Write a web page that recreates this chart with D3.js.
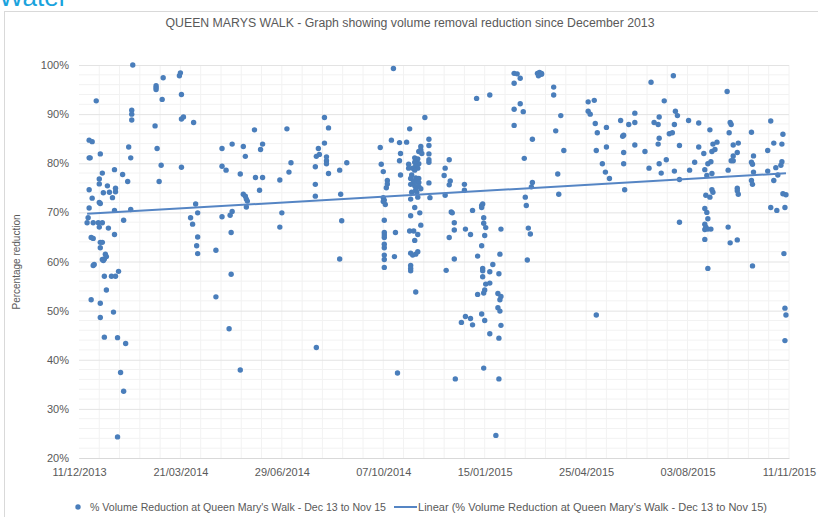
<!DOCTYPE html>
<html>
<head>
<meta charset="utf-8">
<script src="https://cdn.jsdelivr.net/npm/d3@7"></script>
<style>
  body { margin: 0; background: #fff; }
  svg { display: block; font-family: "Liberation Sans", Arial, sans-serif; }
</style>
</head>
<body>
<div id="graph"></div>
<script>
// 開始日（横軸の原点）
const startDate = new Date(2013, 11, 11);

// 横軸の目盛りラベル
const xTickLabels = ['11/12/2013', '21/03/2014', '29/06/2014', '07/10/2014',
  '15/01/2015', '25/04/2015', '03/08/2015', '11/11/2015'];

// 縦軸の目盛り（％）
const yTicks = [20, 30, 40, 50, 60, 70, 80, 90, 100];

// 測定値: [開始日からの日数, 削減率(%)]
const readings = [
  [53,100],[17,92.7],[10,84.7],[13,84.4],[21,81.9],[10,81.1],[11,81.1],[52,90.8],[52,90.0],[52,88.8],
  [49,83.3],[51,81.1],[23,78.0],[35,78.7],[43,77.7],[48,76.3],[20,76.8],[20,75.8],[10,74.6],[28,75.4],
  [24,74.0],[30,74.1],[36,74.9],[36,74.2],[13,72.9],[33,73.0],[20,72.0],[21,71.8],[10,70.9],[35,70.4],
  [51,70.6],[9,68.9],[8,67.9],[14,67.9],[19,67.9],[20,67.0],[23,67.9],[44,68.4],[29,66.8],[35,65.5],
  [12,64.9],[14,64.7],[21,63.9],[23,63.9],[21,62.8],[26,61.5],[27,61.0],[25,60.5],[23,60.4],[24,60.2],
  [14,59.2],[15,59.4],[39,58.0],[25,57.0],[32,57.0],[36,57.0],[27,54.2],[12,52.2],[21,51.5],[34,49.7],
  [21,48.6],[25,44.6],[38,44.5],[46,43.3],[41,37.4],[44,33.6],[38,24.3],
  [76,95.8],[76,95.4],[76,95.0],[83,97.4],[82,93.0],[99,97.8],[100,98.4],[101,94.0],[75,87.6],[101,89.0],
  [103,89.4],[113,88.3],[77,83.0],[81,79.6],[101,79.2],[79,76.3],[115,71.7],[117,69.9],[110,68.9],[112,67.6],
  [117,65.0],[116,63.2],[117,61.6],[135,62.3],[141,83.0],[151,83.9],[162,83.4],[164,81.4],[141,79.4],[145,78.6],
  [159,77.8],[173,86.8],[174,77.1],[162,73.7],[164,73.3],[165,72.7],[166,72.3],[165,71.1],[151,70.2],[149,69.4],
  [141,69.1],[150,65.9],[150,57.4],[135,52.8],[148,46.3],[159,37.9],
  [181,77.1],[179,82.8],[181,83.9],[178,74.5],[205,87.0],[209,80.1],[207,78.2],[198,76.6],[200,69.9],[198,67.0],
  [242,89.3],[246,87.2],[242,84.1],[236,83.0],[234,81.4],[237,81.8],[244,81.3],[244,80.5],[244,79.9],[233,79.3],
  [246,77.9],[257,78.6],[264,80.1],[233,75.7],[233,73.3],[258,73.7],[259,68.3],[257,60.5],[234,42.5],
  [310,99.3],[341,89.3],[326,87.0],[308,84.7],[297,83.2],[316,84.2],[323,84.3],[317,82.0],[316,80.5],[298,79.8],
  [300,78.3],[317,77.6],[304,76.5],[304,75.8],[303,75.0],[300,73.0],[301,72.5],[302,71.6],[300,72.2],[301,68.4],
  [301,65.9],[301,65.4],[301,64.9],[301,63.5],[301,62.8],[301,61.3],[301,60.4],[301,58.8],[312,65.9],[311,61.0],
  [314,37.3],[345,84.9],[345,83.6],[345,81.9],[345,80.7],[345,80.2],[345,76.0],[346,73.0],[337,83.4],[337,82.7],
  [335,82.4],[338,82.0],[331,81.1],[334,80.9],[333,80.5],[331,80.2],[335,79.9],[332,79.5],[329,79.0],[334,79.0],
  [331,78.6],[325,79.8],[325,79.0],[328,77.6],[327,76.9],[332,77.0],[335,76.9],[330,76.3],[333,76.3],[335,76.1],
  [327,75.7],[331,75.4],[335,75.3],[332,74.6],[337,74.8],[328,74.1],[333,74.1],[327,72.7],[334,73.1],[331,71.0],
  [336,69.9],[327,69.3],[337,67.4],[326,66.2],[330,66.2],[334,65.5],[331,64.3],[327,61.7],[332,61.5],[334,62.0],
  [329,61.3],[327,59.2],[327,58.6],[327,58.1],[332,53.8],
  [365,80.7],[361,79.0],[360,77.5],[366,76.4],[365,75.6],[361,73.5],[380,75.7],[380,74.5],[367,70.1],[368,69.9],
  [370,67.9],[370,66.4],[365,64.9],[370,60.5],[362,58.2],[381,66.6],[386,65.5],[388,70.4],[398,71.7],[397,71.4],
  [397,71.0],[399,68.9],[399,67.8],[401,66.9],[400,65.3],[397,63.2],[393,61.1],[416,66.6],[415,61.5],[408,59.4],
  [398,58.6],[398,58.1],[405,57.9],[398,56.9],[414,57.5],[401,55.4],[405,55.6],[400,54.2],[399,53.6],[393,53.3],
  [413,53.5],[416,52.9],[415,52.2],[413,50.6],[415,49.9],[397,49.3],[400,48.0],[416,47.0],[381,48.8],[377,47.6],
  [386,48.4],[388,47.1],[405,45.3],[414,44.4],[399,38.3],[371,36.1],[414,36.1],[411,24.6],[392,93.2],[405,93.9],
  [429,98.3],[432,98.2],[429,96.3],[435,97.3],[435,92.1],[429,91.0],[438,90.5],[429,87.7],[447,84.9],[439,81.0],
  [447,76.1],[446,75.2],[440,73.1],[441,71.4],[443,66.8],[445,65.6],[442,60.3],
  [452,98.3],[454,98.5],[456,98.3],[453,97.8],[456,98.1],[468,95.5],[468,93.9],[475,89.7],[470,86.6],[478,82.6],
  [472,77.8],[473,73.7],[502,92.5],[508,92.8],[502,90.6],[504,90.0],[509,88.1],[511,86.2],[520,87.3],[510,82.6],
  [520,83.3],[516,79.9],[519,78.2],[523,76.9],[534,88.7],[542,87.9],[548,90.2],[548,88.3],[536,85.5],[537,85.7],
  [537,82.2],[537,79.9],[538,74.6],[548,83.7],[510,49.1],
  [564,96.5],[586,97.8],[577,92.7],[567,88.3],[571,87.9],[572,89.4],[588,90.6],[590,89.7],[587,87.9],[601,88.7],
  [611,88.2],[582,86.0],[585,86.2],[572,85.1],[571,83.9],[592,83.6],[558,82.4],[562,79.0],[572,79.9],[574,78.0],
  [579,80.7],[587,78.4],[592,76.7],[592,68.0],[602,78.6],[607,80.2],[611,83.3],[616,82.0],[622,86.8],[625,83.9],
  [624,82.4],[627,82.8],[629,84.3],[620,79.9],[623,80.3],[617,78.7],[619,77.5],[624,77.9],[618,73.5],[622,73.1],
  [624,74.6],[625,74.1],[617,70.8],[619,70.0],[620,68.7],[617,67.6],[618,67.0],[620,66.6],[623,66.6],[617,66.5],
  [617,64.5],[620,58.6],
  [639,94.6],[642,88.3],[643,87.9],[641,86.2],[645,83.7],[650,84.1],[649,82.2],[645,81.5],[643,80.5],[645,80.5],
  [640,78.6],[649,74.9],[649,74.4],[650,73.7],[640,67.0],[642,63.8],[649,64.4],[663,86.3],[665,81.5],[663,80.2],
  [664,79.8],[665,78.2],[663,76.5],[664,75.7],[664,59.1],[682,88.6],[685,84.1],[679,82.6],[679,78.4],[687,79.1],
  [689,77.6],[685,76.5],[692,79.6],[693,80.3],[694,85.9],[693,83.9],[694,73.8],[697,73.6],[696,71.0],[682,71.0],
  [688,70.4],[695,61.6],[696,50.5],[697,49.1],[696,43.9]
];

// 凡例のテキスト
const seriesName = "% Volume Reduction at Queen Mary's Walk - Dec 13 to Nov 15";
const trendName = "Linear (% Volume Reduction at Queen Mary's Walk - Dec 13 to Nov 15)";
const titleText = 'QUEEN MARYS WALK - Graph showing volume removal reduction since December 2013';

// グラフの大きさを設定
const width = 818;
const height = 517;
const plot = {left: 79, right: 789, top: 65, bottom: 458};

const parseLabel = d3.timeParse('%d/%m/%Y');
const formatLabel = d3.timeFormat('%d/%m/%Y');
const xTicks = xTickLabels.map(parseLabel);

const data = readings.map(d => ({date: d3.timeDay.offset(startDate, d[0]), day: d[0], value: d[1]}));

// スケール
const x = d3.scaleTime()
  .domain([xTicks[0], xTicks[xTicks.length - 1]])
  .range([plot.left, plot.right]);

const y = d3.scaleLinear()
  .domain([20, 100])
  .range([plot.bottom, plot.top]);

// SVG要素を作成
const svg = d3.select('#graph')
  .append('svg')
  .attr('width', width)
  .attr('height', height);

// 左上のロゴ文字（上が切れている）
svg.append('text')
  .attr('x', -1)
  .attr('y', 6)
  .attr('fill', '#1aa3dd')
  .style('font-size', '26px')
  .text('Water');

// 枠線
svg.append('rect')
  .attr('x', 4.5)
  .attr('y', 11.5)
  .attr('width', 830)
  .attr('height', 530)
  .attr('fill', 'none')
  .attr('stroke', '#d9d9d9');

// タイトル
svg.append('text')
  .attr('x', 410)
  .attr('y', 27)
  .attr('text-anchor', 'middle')
  .attr('fill', '#595959')
  .attr('textLength', 489)
  .attr('lengthAdjust', 'spacingAndGlyphs')
  .style('font-size', '12px')
  .text(titleText);

// 補助目盛線（縦・横）
const minorDays = d3.range(20, 701, 20).map(d => d3.timeDay.offset(startDate, d));
svg.append('g')
  .selectAll('line')
  .data(minorDays)
  .join('line')
  .attr('x1', d => x(d)).attr('x2', d => x(d))
  .attr('y1', plot.top).attr('y2', plot.bottom)
  .attr('stroke', '#f2f2f2');

svg.append('g')
  .selectAll('line')
  .data(d3.range(22, 100, 2).filter(v => v % 10 !== 0))
  .join('line')
  .attr('x1', plot.left).attr('x2', plot.right)
  .attr('y1', d => y(d)).attr('y2', d => y(d))
  .attr('stroke', '#f2f2f2');

// 主目盛線と縦軸
const yAxis = svg.append('g')
  .attr('transform', `translate(${plot.left},0)`)
  .call(d3.axisLeft(y).tickValues(yTicks).tickSize(-(plot.right - plot.left)).tickPadding(10).tickFormat(d => d + '%'));
yAxis.select('.domain').remove();
yAxis.selectAll('line').attr('stroke', '#e3e3e3');
yAxis.selectAll('text').attr('fill', '#595959').style('font-size', '11px').style('font-family', '"Liberation Sans", Arial, sans-serif');

// 横軸
const xAxis = svg.append('g')
  .attr('transform', `translate(0,${plot.bottom})`)
  .call(d3.axisBottom(x).tickValues(xTicks).tickSize(0).tickPadding(10).tickFormat(formatLabel));
xAxis.select('.domain').attr('stroke', '#d9d9d9');
xAxis.selectAll('text').attr('fill', '#595959').style('font-size', '11px').style('font-family', '"Liberation Sans", Arial, sans-serif');

// 縦軸タイトル
svg.append('text')
  .attr('transform', 'translate(20,262) rotate(-90)')
  .attr('text-anchor', 'middle')
  .attr('fill', '#595959')
  .style('font-size', '10px')
  .text('Percentage reduction');

// 近似直線（最小二乗法）
const meanX = d3.mean(data, d => d.day);
const meanY = d3.mean(data, d => d.value);
const slope = d3.sum(data, d => (d.day - meanX) * (d.value - meanY)) / d3.sum(data, d => (d.day - meanX) ** 2);
const intercept = meanY - slope * meanX;
const dayRange = d3.extent(data, d => d.day);
const trend = dayRange.map(d => ({date: d3.timeDay.offset(startDate, d), value: intercept + slope * d}));

// 点を描画
svg.append('g')
  .selectAll('circle')
  .data(data)
  .join('circle')
  .attr('cx', d => x(d.date))
  .attr('cy', d => y(d.value))
  .attr('r', 2.7)
  .attr('fill', '#4a7ebb');

svg.append('path')
  .datum(trend)
  .attr('fill', 'none')
  .attr('stroke', '#5585c4')
  .attr('stroke-width', 2)
  .attr('d', d3.line().x(d => x(d.date)).y(d => y(d.value)));

// 凡例
const legend = svg.append('g').attr('transform', 'translate(0,507)');
legend.append('circle').attr('cx', 78).attr('cy', 0).attr('r', 2.7).attr('fill', '#4a7ebb');
legend.append('text')
  .attr('x', 90).attr('y', 3.5)
  .attr('fill', '#595959')
  .attr('textLength', 296)
  .attr('lengthAdjust', 'spacingAndGlyphs')
  .style('font-size', '10.5px')
  .text(seriesName);
legend.append('line')
  .attr('x1', 394).attr('x2', 417).attr('y1', 0).attr('y2', 0)
  .attr('stroke', '#5585c4').attr('stroke-width', 2);
legend.append('text')
  .attr('x', 418).attr('y', 3.5)
  .attr('fill', '#595959')
  .attr('textLength', 349)
  .attr('lengthAdjust', 'spacingAndGlyphs')
  .style('font-size', '10.5px')
  .text(trendName);
</script>
</body>
</html>
